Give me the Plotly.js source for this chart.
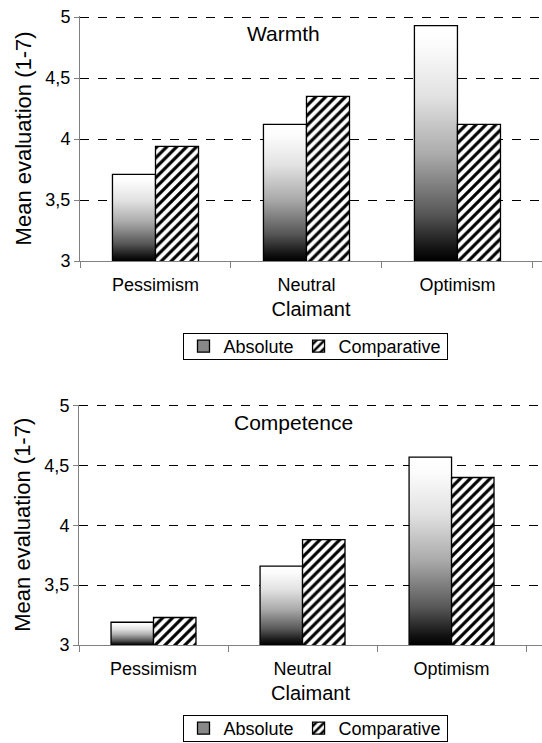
<!DOCTYPE html>
<html>
<head>
<meta charset="utf-8">
<script src="https://cdn.plot.ly/plotly-3.0.1.min.js"></script>
<style>
html,body{margin:0;padding:0;background:#fff;}
#chart{width:542px;height:743px;}
</style>
</head>
<body>
<div id="chart"></div>
<script>
const categories = ['Pessimism', 'Neutral', 'Optimism'];
const seriesNames = ['Absolute', 'Comparative'];
const warmthAbsolute = [3.71, 4.12, 4.93];
const warmthComparative = [3.94, 4.35, 4.12];
const competenceAbsolute = [3.19, 3.66, 4.57];
const competenceComparative = [3.23, 3.88, 4.40];
const yTickVals = [3, 3.5, 4, 4.5, 5];
const yTickText = ['3', '3,5', '4', '4,5', '5'];
const panelTitles = ['Warmth', 'Competence'];
const xTitle = 'Claimant';
const yTitle = 'Mean evaluation (1-7)';

const W = 542, H = 743;
const FONT = '"Liberation Sans", Arial, sans-serif';
const px = v => v / W;
const py = v => 1 - v / H;
const ABS_COLOR = '#888888';

const hatch = {shape: '/', fgcolor: '#000', bgcolor: '#fff', size: 7, solidity: 0.45};
const outline = {color: '#000', width: 1.3};

function absTrace(y, xa, ya, lg) {
  return {type: 'bar', name: seriesNames[0], x: categories, y: y, xaxis: xa, yaxis: ya,
    legend: lg, showlegend: true,
    marker: {color: ABS_COLOR, line: outline}, hoverinfo: 'skip'};
}
function compTrace(y, xa, ya, lg) {
  return {type: 'bar', name: seriesNames[1], x: categories, y: y, xaxis: xa, yaxis: ya,
    legend: lg, showlegend: true,
    marker: {color: '#fff', line: outline, pattern: hatch}, hoverinfo: 'skip'};
}

const data = [
  absTrace(warmthAbsolute, 'x', 'y', 'legend'),
  compTrace(warmthComparative, 'x', 'y', 'legend'),
  absTrace(competenceAbsolute, 'x2', 'y2', 'legend2'),
  compTrace(competenceComparative, 'x2', 'y2', 'legend2')
];

function xAxis(domainLeft, rangeRight, anchor) {
  return {
    domain: [domainLeft, 1], range: [-0.5, rangeRight], anchor: anchor,
    type: 'category', showline: true, linecolor: '#808080', linewidth: 1,
    ticks: 'outside', tickson: 'boundaries', ticklen: 6, tickcolor: '#808080',
    showgrid: false, zeroline: false, fixedrange: true,
    tickfont: {family: FONT, size: 18, color: '#000'}, ticklabelstandoff: 7,
    title: {text: xTitle, font: {family: FONT, size: 20, color: '#000'}, standoff: 8}
  };
}
function yAxis(d0, d1, anchor) {
  return {
    domain: [d0, d1], range: [3, 5.01], anchor: anchor,
    tickvals: yTickVals, ticktext: yTickText,
    showline: true, linecolor: '#808080', linewidth: 1,
    ticks: 'outside', ticklen: 5, tickcolor: '#808080',
    showgrid: true, gridcolor: '#000', griddash: 'dash', gridwidth: 1,
    zeroline: false, fixedrange: true,
    tickfont: {family: FONT, size: 18, color: '#000'},
    title: {text: yTitle, font: {family: FONT, size: 22, color: '#000'}, standoff: 7}
  };
}

const legendBase = {
  orientation: 'h', xanchor: 'center', yanchor: 'top', x: px(315),
  bordercolor: '#000', borderwidth: 1, bgcolor: '#fff',
  font: {family: FONT, size: 18, color: '#000'},
  itemwidth: 30, tracegroupgap: 0, traceorder: 'normal'
};

const layout = {
  width: W, height: H,
  margin: {l: 0, r: 0, t: 0, b: 0, autoexpand: false},
  paper_bgcolor: '#fff', plot_bgcolor: '#fff',
  font: {family: FONT, color: '#000'},
  barmode: 'group', bargap: 0.43, bargroupgap: 0,
  showlegend: true,
  xaxis: xAxis(px(80), 2.56, 'y'),
  yaxis: yAxis(py(261), py(15.8), 'x'),
  xaxis2: xAxis(px(79), 2.607, 'y2'),
  yaxis2: yAxis(py(645), py(404.5), 'x2'),
  legend: Object.assign({}, legendBase, {y: py(327)}),
  legend2: Object.assign({}, legendBase, {y: py(709)}),
  annotations: [
    {text: panelTitles[0], xref: 'paper', yref: 'paper', x: px(283), y: py(34),
     xanchor: 'center', yanchor: 'middle', showarrow: false,
     font: {family: FONT, size: 21, color: '#000'}},
    {text: panelTitles[1], xref: 'paper', yref: 'paper', x: px(293), y: py(422),
     xanchor: 'center', yanchor: 'middle', showarrow: false,
     font: {family: FONT, size: 21, color: '#000'}}
  ]
};

const NS = 'http://www.w3.org/2000/svg';
const STOPS = [[0, '#ffffff'], [0.08, '#fcfcfc'], [0.3, '#e2e2e2'], [0.55, '#aaaaaa'], [0.8, '#575757'], [0.95, '#121212'], [1, '#000000']];
function makeGrad(defs, id, units, y1, y2) {
  const g = document.createElementNS(NS, 'linearGradient');
  g.setAttribute('id', id);
  g.setAttribute('gradientUnits', units);
  g.setAttribute('x1', '0'); g.setAttribute('x2', '0');
  g.setAttribute('y1', String(y1)); g.setAttribute('y2', String(y2));
  STOPS.forEach(([o, c]) => {
    const s = document.createElementNS(NS, 'stop');
    s.setAttribute('offset', String(o)); s.setAttribute('stop-color', c);
    g.appendChild(s);
  });
  defs.appendChild(g);
}
function isAbsFill(p) {
  const f = (p.style.fill || p.getAttribute('fill') || '').replace(/\s/g, '');
  return f === 'rgb(136,136,136)' || f.toLowerCase() === '#888888';
}

function applyStyling(gd) {
  const svg = gd.querySelector('svg.main-svg');
  let defs = svg.querySelector('defs');
  if (!defs) { defs = document.createElementNS(NS, 'defs'); svg.insertBefore(defs, svg.firstChild); }
  const fl = gd._fullLayout;
  let k = 0;
  gd.querySelectorAll('g.trace.bars').forEach(el => {
    const d = el.__data__;
    const tr = d && d[0] && d[0].trace;
    let bottom = null;
    if (tr) {
      const yaName = tr.yaxis === 'y' ? 'yaxis' : 'yaxis' + tr.yaxis.slice(1);
      bottom = fl[yaName]._length;
    }
    el.querySelectorAll('path').forEach(p => {
      if (!isAbsFill(p)) return;
      const bb = p.getBBox();
      const id = 'absGrad' + (k++);
      if (bottom === null) makeGrad(defs, id, 'objectBoundingBox', 0, 1);
      else makeGrad(defs, id, 'userSpaceOnUse', bb.y, bottom);
      p.style.fill = 'url(#' + id + ')';
    });
  });
  makeGrad(defs, 'absGradLegend', 'objectBoundingBox', 0, 1);
  gd.querySelectorAll('path.legendbar').forEach(p => {
    if (isAbsFill(p)) p.style.fill = 'url(#absGradLegend)';
  });
  // make the legend frames as compact as the original's
  gd.querySelectorAll('g.legend > rect.bg, g.legend2 > rect.bg').forEach(r => {
    const h = parseFloat(r.getAttribute('height'));
    const y = parseFloat(r.getAttribute('y') || '0');
    const trim = 6;
    if (h > 2 * trim + 10) {
      r.setAttribute('y', String(y + trim));
      r.setAttribute('height', String(h - 2 * trim));
    }
  });
}

const gd = document.getElementById('chart');
Plotly.newPlot(gd, data, layout, {staticPlot: true, displayModeBar: false}).then(() => applyStyling(gd));
</script>
</body>
</html>
